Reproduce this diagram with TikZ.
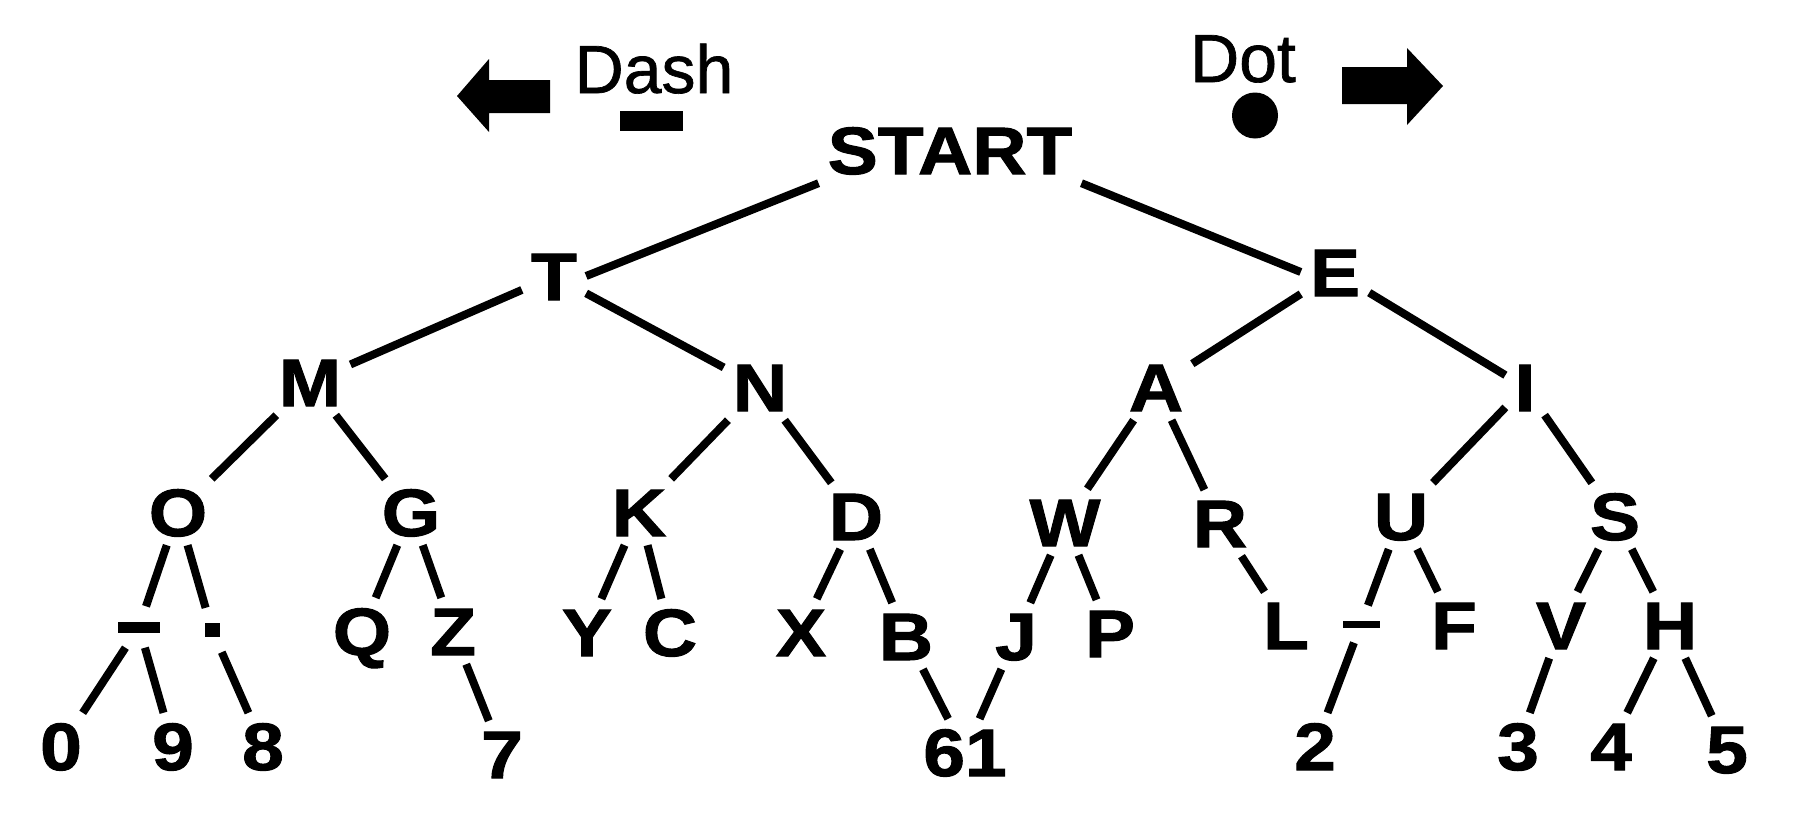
\documentclass[tikz,border=0pt]{standalone}
\usepackage{fontspec}
\newfontfamily\treefont[FakeStretch=1.12,FakeBold=1.5]{Liberation Sans}
\newfontfamily\labelfont[FakeBold=1]{Liberation Sans}

\begin{document}
\begin{tikzpicture}[x=1pt,y=-1pt]
    \tikzstyle{letter} = [font=\treefont\bfseries\fontsize{67pt}{67pt}\selectfont, inner sep=9pt, text height=48pt, text depth=0pt]
    \tikzstyle{symbol} = [inner sep=15pt]
    \tikzstyle{branch} = [line width=8pt]
    \tikzstyle{caption} = [font=\labelfont\fontsize{68pt}{68pt}\selectfont, inner sep=0pt, anchor=base]
    \useasboundingbox (0,0) rectangle (1806,819);

    % key: dash goes left, dot goes right
    \fill (457,96) -- (489,59) -- (489,80) -- (550,80) -- (550,113) -- (489,113) -- (489,132) -- cycle;
    \node[caption] (dashlabel) at (654,93) {Dash};
    \fill (620,111) rectangle (683,131);
    \node[caption] (dotlabel) at (1243,82) {Dot};
    \fill (1255,115.5) circle (23);
    \fill (1342,67) -- (1407,67) -- (1407,48) -- (1443,86) -- (1407,125) -- (1407,104) -- (1342,104) -- cycle;

    % levels 1 to 4
    \node[letter] (START) at (950,150) {START};
    \node[letter] (T) at (554,276) {T};
    \node[letter] (E) at (1335,272) {E};
    \node[letter] (M) at (310,382) {M};
    \node[letter] (N) at (760,387) {N};
    \node[letter] (A) at (1156,387) {A};
    \node[letter] (I) at (1525,387) {I};
    \node[letter] (O) at (178,512) {O};
    \node[letter] (G) at (411,512) {G};
    \node[letter] (K) at (639,512) {K};
    \node[letter] (D) at (856,516) {D};
    \node[letter] (W) at (1065,522) {W};
    \node[letter] (R) at (1220,523) {R};
    \node[letter] (U) at (1401,516) {U};
    \node[letter] (S) at (1615,516) {S};

    % level 5
    \node[symbol] (dashsym) at (139,627) {\rule{42pt}{11pt}};
    \node[symbol] (dotsym) at (212,630) {\rule{15pt}{14pt}};
    \node[letter] (Q) at (362,631) {Q};
    \node[letter] (Z) at (453,631) {Z};
    \node[letter] (Y) at (587,632) {Y};
    \node[letter] (C) at (670,632) {C};
    \node[letter] (X) at (801,632) {X};
    \node[letter] (B) at (906,636) {B};
    \node[letter] (J) at (1016,636) {J};
    \node[letter] (P) at (1110,633) {P};
    \node[letter] (L) at (1286,625) {L};
    \node[symbol] (undersym) at (1361,624) {\rule{37pt}{7pt}};
    \node[letter] (F) at (1454,625) {F};
    \node[letter] (V) at (1561,625) {V};
    \node[letter] (H) at (1670,625) {H};

    % level 6
    \node[letter] (d0) at (61,746) {0};
    \node[letter] (d9) at (173,746) {9};
    \node[letter] (d8) at (263,746) {8};
    \node[letter] (d7) at (502,754) {7};
    \node[letter] (d61) at (965,752) {61};
    \node[letter] (d2) at (1315,746) {2};
    \node[letter] (d3) at (1518,746) {3};
    \node[letter] (d4) at (1611,746) {4};
    \node[letter] (d5) at (1727,749) {5};

    \draw[branch] (START.south west) -- (T.east);
    \draw[branch] (START.south east) -- (E.west);
    \foreach \p/\c in {T/M, T/N, E/A, E/I,
                       M/O, M/G, N/K, N/D, A/W, A/R, I/U, I/S,
                       O/dashsym, O/dotsym, G/Q, G/Z, K/Y, K/C, D/X, D/B,
                       W/J, W/P, R/L, U/undersym, U/F, S/V, S/H,
                       dashsym/d0, dashsym/d9, dotsym/d8, Z/d7, B/d61, J/d61,
                       undersym/d2, V/d3, H/d4, H/d5} {
        \draw[branch] (\p) -- (\c);
    }
\end{tikzpicture}
\end{document}
